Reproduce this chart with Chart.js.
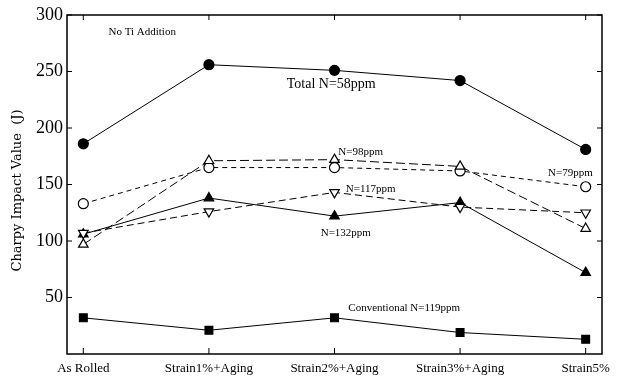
<!DOCTYPE html>
<html>
<head>
<meta charset="utf-8">
<script src="https://cdn.jsdelivr.net/npm/chart.js@4"></script>
<style>
  html, body { margin: 0; padding: 0; background: #fff; }
  #wrap { width: 621px; height: 379px; position: relative; }
</style>
</head>
<body>
<div id="wrap"><canvas id="chart"></canvas></div>
<script>
// categories along the x axis
const categories = ['As Rolled', 'Strain1%+Aging', 'Strain2%+Aging', 'Strain3%+Aging', 'Strain5%'];

// Charpy impact values (J)
const total58 = [186, 256, 251, 242, 181];
const n98 = [97, 171, 172, 166, 111];
const n79 = [133, 165, 165, 162, 148];
const n117 = [107, 126, 143, 130, 125];
const n132 = [106, 138, 122, 134, 72];
const conv119 = [32, 21, 32, 19, 13];

const yTicks = [0, 50, 100, 150, 200, 250, 300];

// text notes: [text, x (category index), y (J), font size]
const notes = [
  ['No Ti Addition', 0.2, 285, 11],
  ['Total N=58ppm', 1.62, 239, 14],
  ['N=98ppm', 2.03, 179, 11],
  ['N=79ppm', 3.7, 160, 11],
  ['N=117ppm', 2.09, 146, 11],
  ['N=132ppm', 1.89, 107, 11],
  ['Conventional N=119ppm', 2.11, 41, 11]
];

function toPoints(vals) {
  return vals.map((v, i) => ({ x: i, y: v }));
}

function series(label, vals, style, filled, dash, rot) {
  return {
    label: label,
    data: toPoints(vals),
    borderColor: '#000',
    borderWidth: 1,
    borderDash: dash,
    pointStyle: style,
    rotation: rot || 0,
    pointRadius: style === 'circle' ? 5 : 5.5,
    pointBorderWidth: 1.2,
    pointBorderColor: '#000',
    pointBackgroundColor: filled ? '#000' : '#fff',
    tension: 0
  };
}

const frame = {
  id: 'frame',
  afterDatasetsDraw(chart) {
    const { ctx, chartArea: a, scales } = chart;
    ctx.save();
    ctx.strokeStyle = '#000';
    ctx.lineWidth = 1.5;
    ctx.strokeRect(a.left, a.top, a.right - a.left, a.bottom - a.top);
    ctx.lineWidth = 1;
    // inward ticks
    yTicks.forEach(v => {
      if (v === 0) return;
      const y = scales.y.getPixelForValue(v);
      ctx.beginPath();
      ctx.moveTo(a.left, y); ctx.lineTo(a.left + 5, y);
      ctx.moveTo(a.right, y); ctx.lineTo(a.right - 5, y);
      ctx.stroke();
    });
    categories.forEach((c, i) => {
      const x = scales.x.getPixelForValue(i);
      ctx.beginPath();
      ctx.moveTo(x, a.bottom); ctx.lineTo(x, a.bottom - 6);
      ctx.moveTo(x, a.top); ctx.lineTo(x, a.top + 5);
      ctx.stroke();
    });
    // notes
    ctx.fillStyle = '#000';
    ctx.textAlign = 'left';
    ctx.textBaseline = 'middle';
    notes.forEach(([t, xv, yv, fs]) => {
      ctx.font = fs + 'px "Liberation Serif"';
      ctx.fillText(t, scales.x.getPixelForValue(xv), scales.y.getPixelForValue(yv));
    });
    // y title
    ctx.font = '13px "DejaVu Serif"';
    ctx.textAlign = 'center';
    ctx.translate(18, (a.top + a.bottom) / 2 + 6);
    ctx.rotate(-Math.PI / 2);
    ctx.fillText('Charpy Impact Value  (J)', 0, 0);
    ctx.restore();
  }
};

new Chart(document.getElementById('chart'), {
  type: 'line',
  data: {
    datasets: [
      series('Total N=58ppm', total58, 'circle', true, []),
      series('N=98ppm', n98, 'triangle', false, [9, 4]),
      series('N=79ppm', n79, 'circle', false, [5, 4]),
      series('N=117ppm', n117, 'triangle', false, [7, 4], 180),
      series('N=132ppm', n132, 'triangle', true, []),
      series('Conventional N=119ppm', conv119, 'rect', true, [])
    ]
  },
  options: {
    responsive: true,
    maintainAspectRatio: false,
    animation: false,
    layout: { padding: { top: 15, right: 19, left: 0, bottom: 0 } },
    plugins: { legend: { display: false }, tooltip: { enabled: false } },
    scales: {
      x: {
        type: 'linear',
        min: -0.13,
        max: 4.13,
        afterBuildTicks: s => { s.ticks = categories.map((c, i) => ({ value: i })); },
        afterFit: s => { s.height = 25; },
        grid: { display: false, drawTicks: false },
        border: { display: false },
        ticks: {
          callback: v => categories[v],
          color: '#000',
          padding: 7,
          maxRotation: 0,
          autoSkip: false,
          font: { family: 'Liberation Serif', size: 13 }
        }
      },
      y: {
        min: 0,
        max: 300,
        afterBuildTicks: s => { s.ticks = yTicks.map(v => ({ value: v })); },
        afterFit: s => { s.width = 67; },
        grid: { display: false, drawTicks: false },
        border: { display: false },
        ticks: {
          callback: v => (v === 0 ? '' : v),
          color: '#000',
          padding: 4,
          font: { family: 'Liberation Serif', size: 18 }
        }
      }
    }
  },
  plugins: [frame]
});
</script>
</body>
</html>
